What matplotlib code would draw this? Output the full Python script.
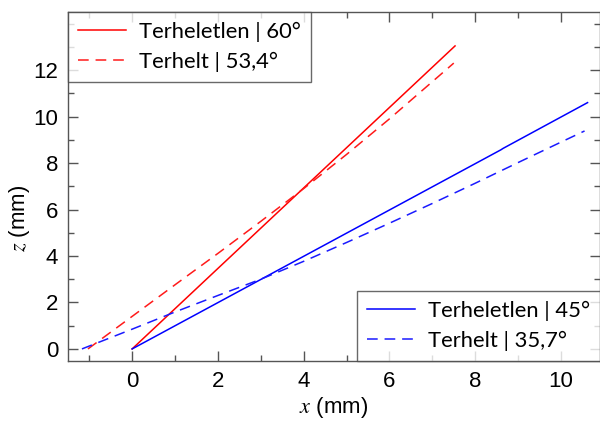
import matplotlib
matplotlib.use('Agg')
import matplotlib.pyplot as plt
from matplotlib.ticker import MultipleLocator

# Terheletlen (unloaded) / Terhelt (loaded) paths, x and z in mm
red_solid_x = [0.0, 7.53]
red_solid_z = [0.0, 13.04]
red_dash_x = [-1.03, 0.0, 1.0, 2.0, 3.0, 4.0, 5.0, 6.0, 7.0, 7.5]
red_dash_z = [0.0, 1.40, 2.76, 4.11, 5.49, 6.90, 8.37, 9.90, 11.50, 12.3]

blue_solid_x = [0.0, 8.6, 8.65, 10.62]
blue_solid_z = [0.0, 8.57, 8.63, 10.6]
blue_dash_x = [-1.17, 0.0, 1.0, 2.0, 3.0, 4.0, 5.0, 6.0, 7.0, 8.0, 9.0, 10.0, 10.55]
blue_dash_z = [0.0, 0.85, 1.59, 2.30, 3.00, 3.77, 4.58, 5.41, 6.26, 7.13, 8.02, 8.90, 9.38]

labels_red = ['Terheletlen | 60°', 'Terhelt | 53,4°']
labels_blue = ['Terheletlen | 45°', 'Terhelt | 35,7°']

plt.rcParams['font.family'] = ['Liberation Sans', 'DejaVu Sans']
plt.rcParams['mathtext.fontset'] = 'stix'

fig = plt.figure(figsize=(6.0, 4.21), dpi=100)
ax = fig.add_axes([0.113, 0.1425, 0.887, 0.829])

dash = (0, (7, 4.5))
l1, = ax.plot(red_solid_x, red_solid_z, color='#ff0000', lw=1.1)
l2, = ax.plot(red_dash_x, red_dash_z, color='#ff1a1a', lw=1.1, linestyle=dash)
l3, = ax.plot(blue_solid_x, blue_solid_z, color='#0000ff', lw=1.1)
l4, = ax.plot(blue_dash_x, blue_dash_z, color='#1a1aff', lw=1.1, linestyle=dash)

ax.set_xlim(-1.5, 10.91)
ax.set_ylim(-0.52, 14.5)
ax.xaxis.set_major_locator(MultipleLocator(2))
ax.xaxis.set_minor_locator(MultipleLocator(1))
ax.yaxis.set_major_locator(MultipleLocator(2))
ax.yaxis.set_minor_locator(MultipleLocator(1))
ax.set_yticks(range(0, 13, 2))
ax.tick_params(which='both', direction='in', top=True, right=True,
               color='#555555', width=1.0, labelsize=16, pad=7)
ax.tick_params(which='major', length=7)
ax.tick_params(which='minor', length=4)
for s in ax.spines.values():
    s.set_color('#555555')
    s.set_linewidth(1.0)

ax.set_xlabel(r'$x$ (mm)', fontsize=16, labelpad=2)
ax.set_ylabel(r'$z$ (mm)', fontsize=16)
ax.yaxis.set_label_coords(-0.068, 0.41)

leg_font = {'family': 'Lato', 'size': 15.8}
leg_kw = dict(borderaxespad=0, fancybox=False, prop=leg_font, handlelength=2.2,
              handletextpad=0.6, labelspacing=0.45, borderpad=0.45)
leg1 = ax.legend([l1, l2], labels_red, loc='upper left', **leg_kw)
leg1.get_frame().set_edgecolor('#444444')
leg1.get_frame().set_linewidth(1.0)
ax.add_artist(leg1)
leg2 = ax.legend([l3, l4], labels_blue, loc='lower right', **leg_kw)
leg2.get_frame().set_edgecolor('#444444')
leg2.get_frame().set_linewidth(1.0)

fig.savefig('out.png', dpi=100)
